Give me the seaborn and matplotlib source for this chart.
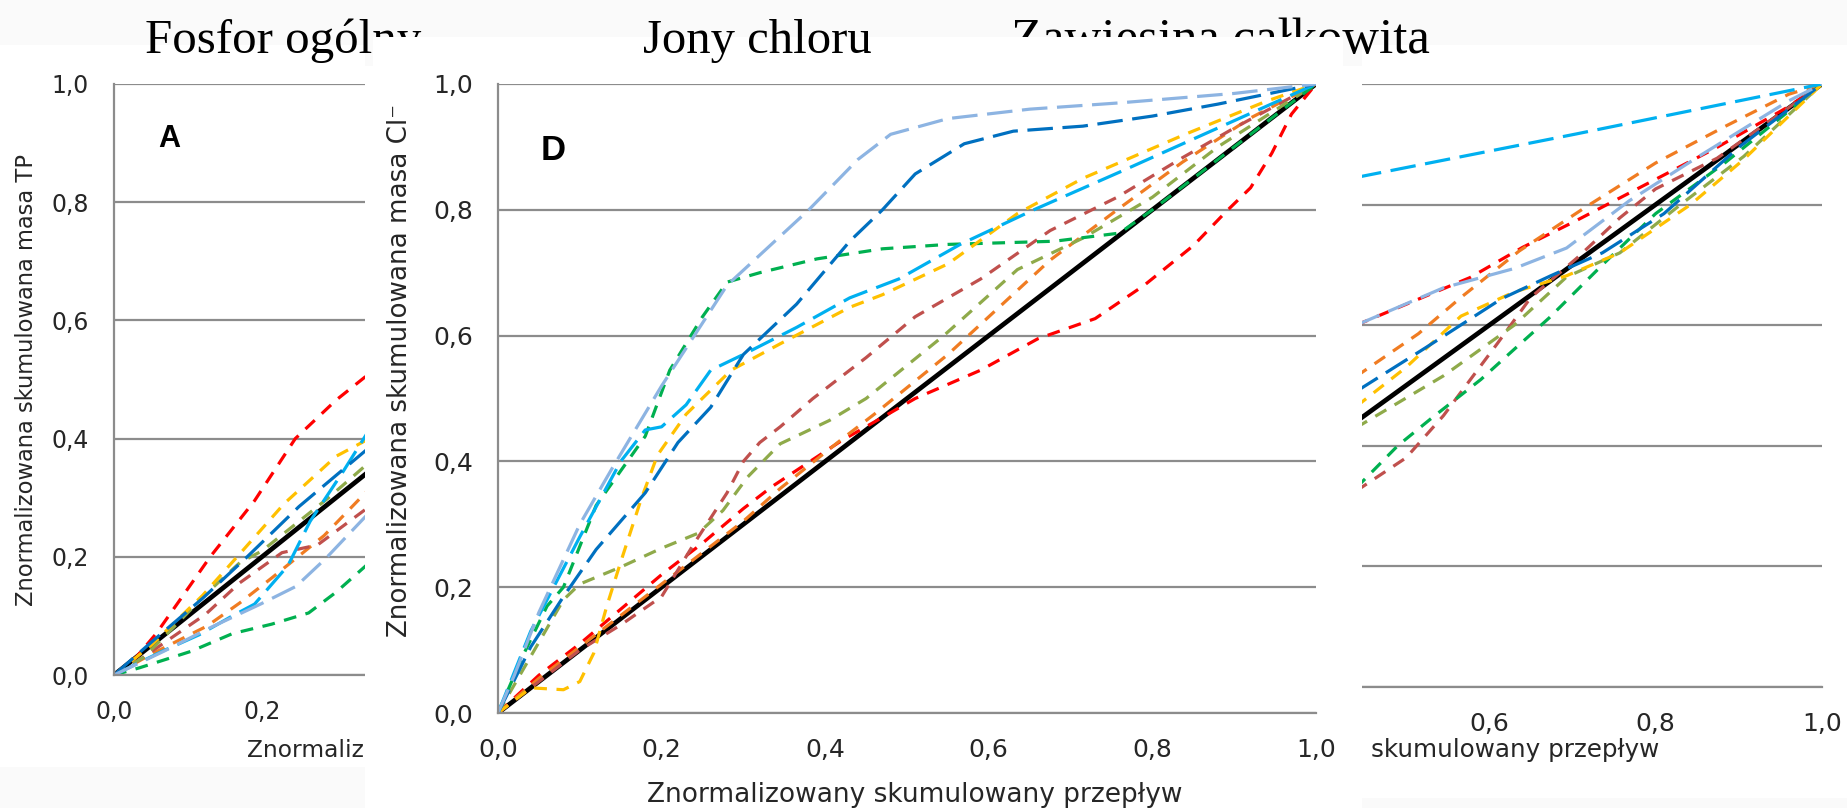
import matplotlib
matplotlib.use("Agg")
import matplotlib.pyplot as plt
import numpy as np
import pandas as pd
import seaborn as sns
from matplotlib.patches import Rectangle
from matplotlib.ticker import FuncFormatter

# ------------------------------------------------------------------ data
series_keys = ["red", "orange", "brown", "olive", "green", "gold", "sky", "blue", "lightblue"]
series_colors = ["#FF0000", "#F07C22", "#C0504D", "#8FAA4A", "#00B050", "#FFC000", "#00B0F0", "#0070C0", "#8DB4E2"]
series_dash = ["short", "short", "short", "short", "short", "short", "long", "long", "long"]

titles = ["Fosfor ogólny", "Jony chloru", "Zawiesina całkowita"]
xlabel_text = "Znormalizowany skumulowany przepływ"
xlabel_first = "Znormalizowany"
xlabel_rest = "skumulowany przepływ"
ylabel_A = "Znormalizowana skumulowana masa TP"
ylabel_D = "Znormalizowana skumulowana masa Cl⁻"
tick_values = [0.0, 0.2, 0.4, 0.6, 0.8, 1.0]
black_x = [0.0, 1.0]
black_y = [0.0, 1.0]

# Panel A (Fosfor ogólny) - only the left part is visible
A_red_x = [0, 0.03, 0.057, 0.088, 0.13, 0.19, 0.245, 0.30, 0.345]
A_red_y = [0, 0.03, 0.07, 0.125, 0.20, 0.295, 0.40, 0.465, 0.51]
A_orange_x = [0, 0.05, 0.126, 0.17, 0.213, 0.284, 0.345]
A_orange_y = [0, 0.035, 0.083, 0.122, 0.164, 0.236, 0.315]
A_brown_x = [0, 0.036, 0.124, 0.17, 0.227, 0.275, 0.345]
A_brown_y = [0, 0.027, 0.103, 0.156, 0.207, 0.22, 0.285]
A_olive_x = [0, 0.04, 0.08, 0.124, 0.17, 0.2, 0.24, 0.29, 0.345]
A_olive_y = [0, 0.03, 0.08, 0.137, 0.19, 0.21, 0.25, 0.30, 0.36]
A_green_x = [0, 0.034, 0.104, 0.16, 0.213, 0.263, 0.30, 0.345]
A_green_y = [0, 0.012, 0.04, 0.07, 0.086, 0.105, 0.14, 0.19]
A_gold_x = [0, 0.05, 0.12, 0.17, 0.23, 0.30, 0.345]
A_gold_y = [0, 0.05, 0.135, 0.205, 0.29, 0.37, 0.40]
A_sky_x = [0, 0.065, 0.115, 0.16, 0.19, 0.235, 0.265, 0.31, 0.345]
A_sky_y = [0, 0.04, 0.068, 0.10, 0.12, 0.185, 0.26, 0.345, 0.415]
A_blue_x = [0, 0.05, 0.12, 0.18, 0.25, 0.345]
A_blue_y = [0, 0.055, 0.13, 0.2, 0.285, 0.385]
A_lightblue_x = [0, 0.067, 0.13, 0.198, 0.246, 0.286, 0.345]
A_lightblue_y = [0, 0.04, 0.08, 0.12, 0.15, 0.197, 0.275]

# Panel D (Jony chloru)
D_red_x = [0, 0.05, 0.10, 0.15, 0.20, 0.25, 0.30, 0.335, 0.42, 0.47, 0.51, 0.59, 0.66, 0.73, 0.79, 0.85, 0.89, 0.92, 0.946, 0.97, 1.0]
D_red_y = [0, 0.06, 0.11, 0.165, 0.22, 0.27, 0.325, 0.36, 0.433, 0.47, 0.50, 0.545, 0.595, 0.627, 0.68, 0.743, 0.797, 0.835, 0.89, 0.952, 1.0]
D_orange_x = [0, 0.05, 0.10, 0.15, 0.20, 0.25, 0.30, 0.345, 0.42, 0.46, 0.55, 0.675, 0.757, 0.837, 0.92, 1.0]
D_orange_y = [0, 0.055, 0.105, 0.155, 0.205, 0.255, 0.305, 0.357, 0.435, 0.475, 0.57, 0.72, 0.80, 0.876, 0.946, 1.0]
D_brown_x = [0, 0.05, 0.10, 0.15, 0.20, 0.24, 0.28, 0.30, 0.32, 0.345, 0.385, 0.45, 0.51, 0.59, 0.675, 0.757, 0.837, 0.9, 1.0]
D_brown_y = [0, 0.05, 0.10, 0.14, 0.185, 0.27, 0.35, 0.40, 0.43, 0.455, 0.50, 0.565, 0.63, 0.69, 0.767, 0.82, 0.883, 0.93, 1.0]
D_olive_x = [0, 0.04, 0.08, 0.10, 0.15, 0.20, 0.245, 0.275, 0.305, 0.345, 0.405, 0.45, 0.545, 0.635, 0.715, 0.80, 0.88, 1.0]
D_olive_y = [0, 0.09, 0.18, 0.205, 0.232, 0.262, 0.286, 0.322, 0.375, 0.428, 0.465, 0.50, 0.60, 0.705, 0.755, 0.82, 0.90, 1.0]
D_green_x = [0, 0.03, 0.06, 0.08, 0.12, 0.18, 0.21, 0.25, 0.28, 0.32, 0.39, 0.47, 0.55, 0.68, 0.76, 0.80, 0.88, 1.0]
D_green_y = [0, 0.09, 0.17, 0.20, 0.33, 0.44, 0.545, 0.63, 0.685, 0.70, 0.722, 0.738, 0.745, 0.75, 0.763, 0.80, 0.88, 1.0]
D_gold_x = [0, 0.04, 0.08, 0.10, 0.117, 0.133, 0.15, 0.175, 0.195, 0.23, 0.285, 0.345, 0.43, 0.47, 0.55, 0.635, 0.715, 0.84, 0.94, 1.0]
D_gold_y = [0, 0.04, 0.037, 0.05, 0.095, 0.17, 0.24, 0.34, 0.41, 0.475, 0.545, 0.587, 0.645, 0.665, 0.714, 0.794, 0.85, 0.92, 0.973, 1.0]
D_sky_x = [0, 0.04, 0.10, 0.15, 0.18, 0.20, 0.23, 0.26, 0.30, 0.365, 0.43, 0.49, 0.565, 0.655, 0.76, 0.88, 1.0]
D_sky_y = [0, 0.13, 0.28, 0.40, 0.45, 0.455, 0.49, 0.545, 0.57, 0.613, 0.66, 0.69, 0.745, 0.80, 0.86, 0.93, 1.0]
D_blue_x = [0, 0.04, 0.08, 0.12, 0.18, 0.22, 0.26, 0.30, 0.365, 0.43, 0.47, 0.51, 0.57, 0.63, 0.715, 0.80, 0.88, 1.0]
D_blue_y = [0, 0.105, 0.185, 0.26, 0.35, 0.43, 0.486, 0.57, 0.65, 0.75, 0.80, 0.857, 0.905, 0.925, 0.933, 0.949, 0.968, 1.0]
D_lightblue_x = [0, 0.02, 0.05, 0.10, 0.14, 0.20, 0.24, 0.28, 0.33, 0.38, 0.44, 0.48, 0.55, 0.65, 0.76, 0.90, 1.0]
D_lightblue_y = [0, 0.06, 0.16, 0.30, 0.39, 0.52, 0.60, 0.68, 0.74, 0.80, 0.88, 0.92, 0.945, 0.96, 0.97, 0.985, 1.0]

# Panel C (Zawiesina całkowita) - only the right part is visible
C_red_x = [0.44, 0.577, 0.64, 0.704, 0.789, 0.874, 0.958, 1.0]
C_red_y = [0.60, 0.679, 0.729, 0.773, 0.834, 0.895, 0.961, 1.0]
C_orange_x = [0.44, 0.515, 0.566, 0.636, 0.715, 0.80, 0.884, 0.96, 1.0]
C_orange_y = [0.515, 0.586, 0.646, 0.723, 0.795, 0.869, 0.93, 0.983, 1.0]
C_brown_x = [0.44, 0.50, 0.545, 0.61, 0.65, 0.706, 0.757, 0.80, 0.874, 1.0]
C_brown_y = [0.325, 0.38, 0.45, 0.57, 0.646, 0.712, 0.778, 0.826, 0.877, 1.0]
C_olive_x = [0.44, 0.545, 0.63, 0.693, 0.757, 0.83, 0.906, 1.0]
C_olive_y = [0.43, 0.516, 0.60, 0.68, 0.72, 0.80, 0.88, 1.0]
C_green_x = [0.44, 0.49, 0.53, 0.59, 0.63, 0.672, 0.736, 0.80, 0.884, 0.96, 1.0]
C_green_y = [0.33, 0.40, 0.445, 0.51, 0.56, 0.612, 0.70, 0.785, 0.87, 0.955, 1.0]
C_gold_x = [0.44, 0.50, 0.566, 0.63, 0.693, 0.757, 0.842, 0.906, 1.0]
C_gold_y = [0.465, 0.53, 0.615, 0.655, 0.682, 0.72, 0.80, 0.875, 1.0]
C_sky_x = [0.44, 0.704, 1.0]
C_sky_y = [0.845, 0.917, 1.0]
C_blue_x = [0.44, 0.524, 0.615, 0.674, 0.736, 0.81, 0.9, 1.0]
C_blue_y = [0.49, 0.563, 0.644, 0.682, 0.72, 0.785, 0.895, 1.0]
C_lightblue_x = [0.44, 0.545, 0.63, 0.693, 0.768, 0.852, 0.96, 1.0]
C_lightblue_y = [0.60, 0.662, 0.694, 0.728, 0.806, 0.88, 0.972, 1.0]

# ------------------------------------------------------------------ helpers
W, H, DPI = 1847, 808, 100
GRID = "#8C8C8C"
TXT = "#262626"
palette = dict(zip(series_keys, series_colors))
dash_map = {k: ((4, 3) if d == "short" else (8, 3)) for k, d in zip(series_keys, series_dash)}


def panel_df(prefix):
    frames = []
    g = globals()
    for k in series_keys:
        frames.append(pd.DataFrame({"x": g[f"{prefix}_{k}_x"], "y": g[f"{prefix}_{k}_y"], "series": k}))
    return pd.concat(frames, ignore_index=True)


def rect_px(x0, y0, x1, y1):
    """figure-fraction rect from a pixel box (origin top-left)"""
    return [x0 / W, 1 - y1 / H, (x1 - x0) / W, (y1 - y0) / H]


def add_box(x0, y0, x1, y1, color, z):
    r = rect_px(x0, y0, x1, y1)
    fig.patches.append(Rectangle((r[0], r[1]), r[2], r[3], transform=fig.transFigure,
                                 facecolor=color, edgecolor="none", zorder=z))


fmt = FuncFormatter(lambda v, p: f"{v:.1f}".replace(".", ","))


def style_ax(ax, labelsize):
    ax.set_xlim(0, 1)
    ax.set_ylim(0, 1)
    ax.set_xticks(tick_values)
    ax.set_yticks(tick_values)
    ax.xaxis.set_major_formatter(fmt)
    ax.yaxis.set_major_formatter(fmt)
    ax.grid(False)
    ax.yaxis.grid(True, color=GRID, lw=1.6)
    ax.set_axisbelow(True)
    for s in ["top", "right"]:
        ax.spines[s].set_visible(False)
    for s in ["left", "bottom"]:
        ax.spines[s].set_color(GRID)
        ax.spines[s].set_linewidth(1.6)
    ax.tick_params(direction="out", length=7, width=1.5, color=GRID,
                   labelsize=labelsize, labelcolor=TXT, pad=11)
    ax.set_facecolor("white")


def draw_lines(ax, prefix):
    sns.lineplot(x=black_x, y=black_y, ax=ax, color="black", lw=3.4, legend=False)
    sns.lineplot(data=panel_df(prefix), x="x", y="y", hue="series", style="series",
                 hue_order=series_keys, style_order=series_keys,
                 palette=palette, dashes=dash_map, linewidth=2.3,
                 estimator=None, sort=False, legend=False, ax=ax)
    ax.set_xlabel("")
    ax.set_ylabel("")


def text_width(s, size):
    t = fig.text(0, 0, s, fontsize=size)
    w = t.get_window_extent(renderer).width
    t.remove()
    return w


# ------------------------------------------------------------------ figure
sns.set_theme(style="white")
plt.rcParams["font.family"] = ["DejaVu Sans"]
fig = plt.figure(figsize=(W / DPI, H / DPI), dpi=DPI, facecolor="#fafafa")
renderer = fig.canvas.get_renderer()

# white slide pictures of panels A and C
add_box(0, 45, 365, 767, "white", -1)
add_box(1362, 45, W, 798, "white", -1)

# Panel A
axA = fig.add_axes(rect_px(114, 84, 114 + 740, 675))
axA.set_zorder(0)
style_ax(axA, 17)
draw_lines(axA, "A")
sizeA = 16.8
wA = text_width(xlabel_text, sizeA)
axA.text(484 / W, 1 - 750 / H, xlabel_first, transform=fig.transFigure, fontsize=sizeA, color=TXT,
         ha="left", va="center", clip_on=False).set_x((484 - wA / 2) / W)
axA.set_ylabel(ylabel_A, fontsize=16.3, color=TXT)
axA.yaxis.label.set_va("center")
axA.yaxis.set_label_coords(-0.118, 0.50)
axA.text(0.075, 0.907, "A", transform=axA.transAxes, fontsize=22, fontweight="bold",
         family="Liberation Sans", ha="center", va="center", color="black")

# Panel C
axC = fig.add_axes(rect_px(990, 84, 1822, 687))
axC.set_zorder(0)
style_ax(axC, 18)
draw_lines(axC, "C")
sizeC = 17.7
wC = text_width(xlabel_text, sizeC)
axC.text((1409 + wC / 2) / W, 1 - 750 / H, xlabel_rest, transform=fig.transFigure, fontsize=sizeC,
         color=TXT, ha="right", va="center", clip_on=False)

# titles (two of them lie under the overlapping picture of panel D)
title_left = [145, 643, 1011]
title_width = [277, 229, 420]
title_base = 53
title_objs = []
for t, xl, tw, z in zip(titles, title_left, title_width, [1, 4, 1]):
    tx = fig.text(xl / W, 1 - title_base / H, t, family="Liberation Serif", fontsize=34,
                  ha="left", va="baseline", color="black", zorder=z)
    tx.set_fontsize(34 * tw / tx.get_window_extent(renderer).width)
    title_objs.append(tx)


def part_right(part, obj):
    tmp = fig.text(obj.get_position()[0], obj.get_position()[1], part, family="Liberation Serif",
                   fontsize=obj.get_fontsize(), ha="left", va="baseline")
    r = tmp.get_window_extent(renderer).x1
    tmp.remove()
    return r


cut_left = max(366, part_right("Fosfor ogól", title_objs[0]) + 1)
cut_right = part_right("Zawiesina całko", title_objs[2]) + 1

# picture of panel D, covering the neighbours
add_box(cut_left, 37, cut_right, 70, "white", 2)
add_box(365, 66, 1362, H, "white", 2)

# Panel D
axD = fig.add_axes(rect_px(498, 84, 1316, 713))
axD.set_zorder(3)
style_ax(axD, 18)
draw_lines(axD, "D")
axD.set_xlabel(xlabel_text, fontsize=19, color=TXT)
axD.xaxis.label.set_va("center")
axD.xaxis.set_label_coords(0.509, -0.130)
axD.set_ylabel(ylabel_D, fontsize=18.8, color=TXT)
axD.yaxis.label.set_va("center")
axD.yaxis.set_label_coords(-0.12, 0.544)
axD.text(0.068, 0.895, "D", transform=axD.transAxes, fontsize=25, fontweight="bold",
         family="Liberation Sans", ha="center", va="center", color="black")

fig.savefig("out.png", dpi=DPI, facecolor=fig.get_facecolor())
